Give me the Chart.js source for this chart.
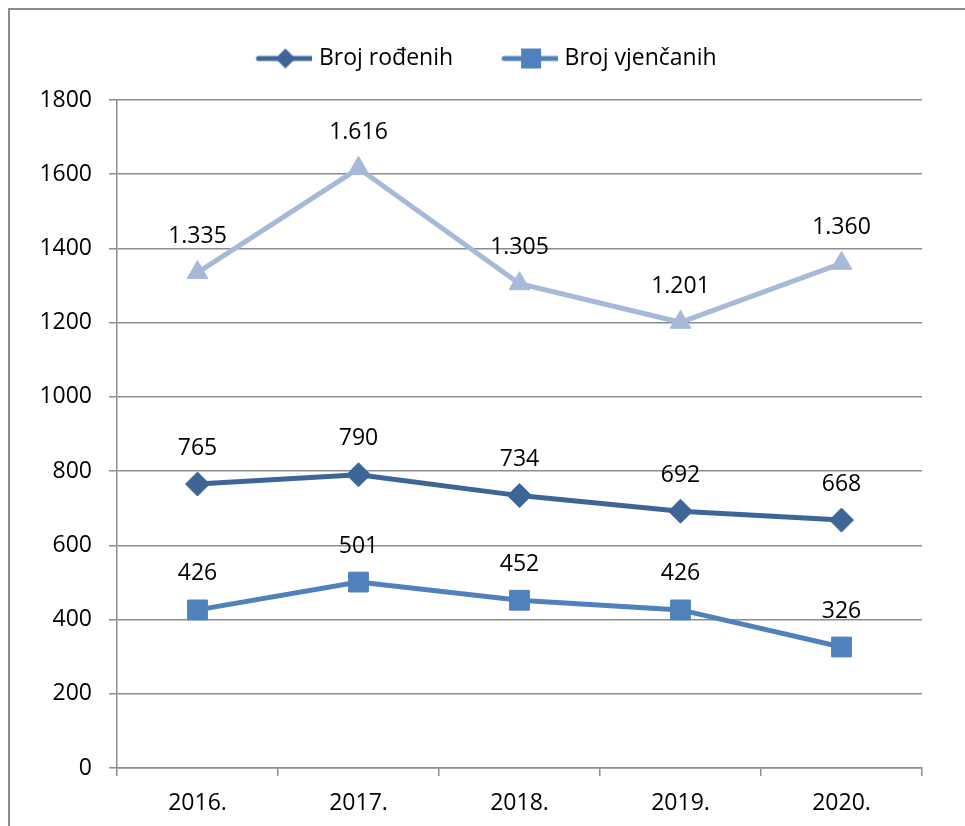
<!DOCTYPE html>
<html>
<head>
<meta charset="utf-8">
<script src="https://cdn.jsdelivr.net/npm/chart.js@4.4.1/dist/chart.umd.min.js"></script>
<style>
  html, body { margin: 0; padding: 0; background: #ffffff; }
  #wrap { position: relative; width: 965px; height: 826px; }
  #frame { position: absolute; left: 8px; top: 8px; right: 0; bottom: -10px;
           border-top: 2px solid #8c8c8c; border-left: 2px solid #8c8c8c; pointer-events: none; }
  canvas { position: absolute; left: 0; top: 0; }
</style>
</head>
<body>
<div id="wrap">
  <canvas id="c" width="965" height="826"></canvas>
  <div id="frame"></div>
</div>
<script>
// ---- data ----
const categories = ['2016.', '2017.', '2018.', '2019.', '2020.'];
const brojRodjenih = [765, 790, 734, 692, 668];
const brojVjencanih = [426, 501, 452, 426, 326];
const trecaSerija = [1335, 1616, 1305, 1201, 1360];
const seriesNames = ['Broj rođenih', 'Broj vjenčanih', ''];
const yTicks = [0, 200, 400, 600, 800, 1000, 1200, 1400, 1600, 1800];

// ---- styles ----
const FONT = 'Open Sans';
const FS = 23;
const C_DARK = '#3e6597';
const C_MID = '#4f81bd';
const C_LIGHT = '#a6b9d9';
const GRID = '#8c8c8c';

function fmt(v) {
  return String(v).replace(/\B(?=(\d{3})+(?!\d))/g, '.');
}

function legendIcon(color, shape) {
  const cv = document.createElement('canvas');
  cv.width = 60; cv.height = 22;
  const g = cv.getContext('2d');
  g.strokeStyle = color; g.lineWidth = 5; g.lineCap = 'round';
  g.beginPath(); g.moveTo(6, 11); g.lineTo(60, 11); g.stroke();
  g.fillStyle = color;
  const cx = 33, cy = 11;
  if (shape === 'diamond') {
    g.beginPath(); g.moveTo(cx, cy - 10); g.lineTo(cx + 10, cy); g.lineTo(cx, cy + 10); g.lineTo(cx - 10, cy); g.closePath(); g.fill();
  } else {
    g.fillRect(cx - 10, cy - 10, 20, 20);
  }
  return cv;
}
const icons = [legendIcon(C_DARK, 'diamond'), legendIcon(C_MID, 'square')];

const dataLabels = {
  id: 'dataLabels',
  afterDatasetsDraw(chart) {
    const ctx = chart.ctx;
    ctx.save();
    ctx.font = FS + 'px "' + FONT + '"';
    ctx.fillStyle = '#000';
    ctx.textAlign = 'center';
    ctx.textBaseline = 'middle';
    chart.data.datasets.forEach((ds, i) => {
      const meta = chart.getDatasetMeta(i);
      meta.data.forEach((pt, j) => {
        ctx.fillText(fmt(ds.data[j]), pt.x, pt.y - 36);
      });
    });
    ctx.restore();
  }
};

const legendShift = {
  id: 'legendShift',
  afterLayout(chart) {
    const lg = chart.legend;
    if (!lg) return;
    const target = 59;
    const p = lg.options.labels.padding;
    const top = target - p - 12;
    const h = lg.height;
    lg.top = top; lg.bottom = top + h;
    lg.left += 26; lg.right += 26;
  }
};

new Chart(document.getElementById('c'), {
  type: 'line',
  data: {
    labels: categories,
    datasets: [
      { label: seriesNames[0], data: brojRodjenih, borderColor: C_DARK, backgroundColor: C_DARK,
        borderWidth: 5, pointStyle: 'rectRot', pointRadius: 12, pointBorderWidth: 1, tension: 0 },
      { label: seriesNames[1], data: brojVjencanih, borderColor: C_MID, backgroundColor: C_MID,
        borderWidth: 5, pointStyle: 'rect', pointRadius: 14, pointBorderWidth: 1, tension: 0 },
      { label: seriesNames[2], data: trecaSerija, borderColor: C_LIGHT, backgroundColor: C_LIGHT,
        borderWidth: 5, pointStyle: 'triangle', pointRadius: 12, pointBorderWidth: 1, tension: 0 }
    ]
  },
  options: {
    responsive: false,
    animation: false,
    devicePixelRatio: 1,
    layout: { padding: { top: 17, right: 43, left: 0, bottom: 0 } },
    plugins: {
      tooltip: { enabled: false },
      legend: {
        position: 'top',
        align: 'center',
        labels: {
          color: '#000',
          font: { family: FONT, size: FS },
          usePointStyle: true,
          pointStyleWidth: 50,
          padding: 50,
          generateLabels(chart) {
            return chart.data.datasets.slice(0, 2).map((ds, i) => ({
              text: ds.label, pointStyle: icons[i], fillStyle: ds.borderColor,
              strokeStyle: ds.borderColor, lineWidth: 0, hidden: false, datasetIndex: i, fontColor: '#000'
            }));
          }
        }
      }
    },
    scales: {
      x: {
        type: 'category',
        offset: true,
        afterFit(s) { s.height = 58; },
        grid: { display: true, drawOnChartArea: false, drawTicks: true, tickLength: 8, color: GRID, lineWidth: 1.5, offset: true },
        border: { display: true, color: GRID, width: 1.5 },
        ticks: { color: '#000', font: { family: FONT, size: FS }, padding: 14 }
      },
      y: {
        min: 0, max: 1800,
        afterFit(s) { s.width = 117; },
        afterBuildTicks(s) { s.ticks = yTicks.map(v => ({ value: v })); },
        grid: { color: GRID, lineWidth: 1.5, tickLength: 8, drawTicks: true },
        border: { display: true, color: GRID, width: 1.5 },
        ticks: { color: '#000', font: { family: FONT, size: FS }, padding: 17,
                 callback: (v) => String(v) }
      }
    }
  },
  plugins: [dataLabels, legendShift]
});
</script>
</body>
</html>
